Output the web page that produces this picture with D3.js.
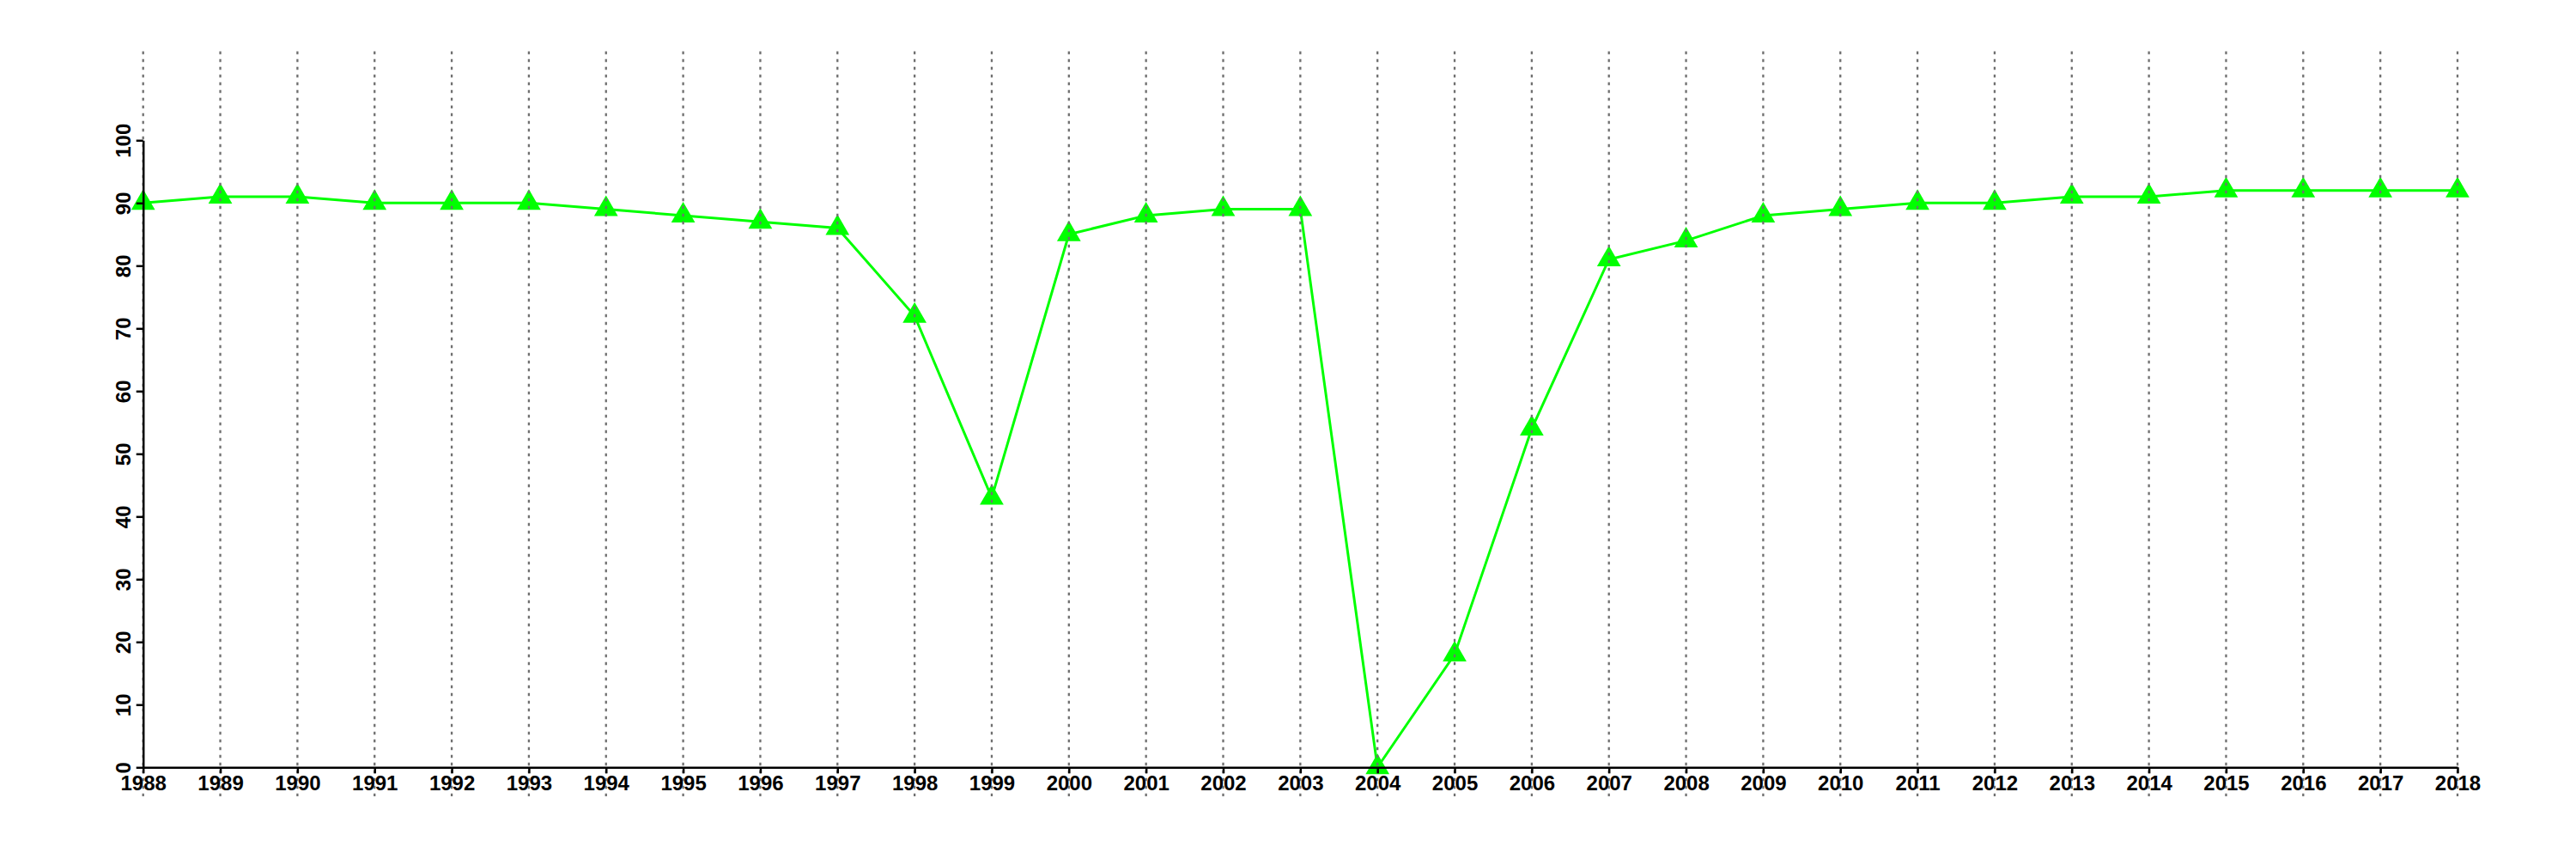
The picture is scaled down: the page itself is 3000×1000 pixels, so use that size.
<!DOCTYPE html>
<html>
<head>
<meta charset="utf-8">
<script src="https://cdn.jsdelivr.net/npm/d3@7"></script>
<style>
  html, body { margin: 0; padding: 0; background: #fff; }
  svg { display: block; }
</style>
</head>
<body>
<svg id="chart" width="3000" height="1000"></svg>
<script>
const years = [1988,1989,1990,1991,1992,1993,1994,1995,1996,1997,1998,1999,2000,2001,2002,2003,2004,2005,2006,2007,2008,2009,2010,2011,2012,2013,2014,2015,2016,2017,2018];
const values = [90,91,91,90,90,90,89,88,87,86,72,43,85,88,89,89,0,18,54,81,84,88,89,90,90,91,91,92,92,92,92];
const yTicks = [0,10,20,30,40,50,60,70,80,90,100];
const xTicks = years;

const svg = d3.select("#chart");
svg.append("rect").attr("width", 3000).attr("height", 1000).attr("fill", "#fff");

const x = d3.scaleLinear().domain([1988, 2018]).range([166.7, 2862]);
const y = d3.scaleLinear().domain([0, 100]).range([893.3, 163.3]);

const data = years.map((yr, i) => ({ yr, v: values[i] }));

// series line
svg.append("path")
  .datum(data)
  .attr("fill", "none")
  .attr("stroke", "#00ff00")
  .attr("stroke-width", 3)
  .attr("d", d3.line().x(d => x(d.yr)).y(d => y(d.v)));

// markers (filled triangles, centred on circumcentre)
const r = 16;
const hw = r * Math.sqrt(3) / 2;
svg.append("g").selectAll("path")
  .data(data)
  .join("path")
  .attr("fill", "#00ff00")
  .attr("d", d => {
    const cx = x(d.yr), cy = y(d.v);
    return `M${cx},${cy - r}L${cx + hw},${cy + r / 2}L${cx - hw},${cy + r / 2}Z`;
  });

// vertical dotted grid
svg.append("g").selectAll("line")
  .data(xTicks)
  .join("line")
  .attr("x1", d => x(d)).attr("x2", d => x(d))
  .attr("y1", y(114.2)).attr("y2", y(-4.6))
  .attr("stroke", "#707070")
  .attr("stroke-width", 2.3)
  .attr("stroke-dasharray", "3.5,5.5");

const fontFam = "'Liberation Sans', Arial, Helvetica, sans-serif";

// x axis
const gx = svg.append("g")
  .attr("transform", `translate(0,${y(0)})`)
  .call(d3.axisBottom(x).tickValues(xTicks).tickFormat(d3.format("d")).tickSize(7).tickSizeOuter(0));
gx.attr("font-family", null).attr("font-size", null);
gx.select(".domain").attr("stroke", "#000").attr("stroke-width", 2.5);
gx.selectAll(".tick line").attr("stroke", "#000").attr("stroke-width", 2.5);
gx.selectAll(".tick text")
  .attr("y", 26.7).attr("dy", 0)
  .attr("fill", "#000")
  .style("font-family", fontFam)
  .style("font-weight", "bold")
  .style("font-size", "24px");

// y axis
const gy = svg.append("g")
  .attr("transform", `translate(${x(1988)},0)`)
  .call(d3.axisLeft(y).tickValues(yTicks).tickSize(8).tickSizeOuter(0));
gy.attr("font-family", null).attr("font-size", null);
gy.select(".domain").attr("stroke", "#000").attr("stroke-width", 2.5);
gy.selectAll(".tick line").attr("stroke", "#000").attr("stroke-width", 2.5);
gy.selectAll(".tick text")
  .attr("transform", "rotate(-90)")
  .attr("x", 0).attr("y", -14.7).attr("dy", 0)
  .attr("text-anchor", "middle")
  .attr("fill", "#000")
  .style("font-family", fontFam)
  .style("font-weight", "bold")
  .style("font-size", "24px");
</script>
</body>
</html>
